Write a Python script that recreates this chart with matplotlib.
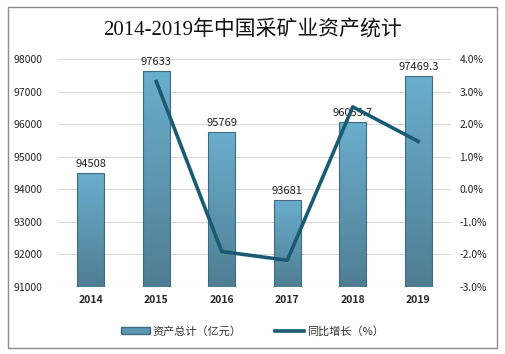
import matplotlib.pyplot as plt
import numpy as np
from matplotlib.patches import Rectangle
from matplotlib.lines import Line2D
from matplotlib.colors import LinearSegmentedColormap

plt.rcParams['font.family'] = ['Noto Sans CJK SC', 'DejaVu Sans']

years = ['2014', '2015', '2016', '2017', '2018', '2019']
assets = [94508, 97633, 95769, 93681, 96055.7, 97469.3]
asset_labels = ['94508', '97633', '95769', '93681', '96055.7', '97469.3']
growth_years = ['2015', '2016', '2017', '2018', '2019']
growth = [3.31, -1.91, -2.18, 2.53, 1.47]

fig = plt.figure(figsize=(5.05, 3.54), dpi=100)
ax = fig.add_axes([58/505, 1-287/354, (451-58)/505, (287-59)/354])
ax2 = ax.twinx()

x = np.arange(len(years))

# gradient bars
grad = np.linspace(0, 1, 100).reshape(-1, 1)
cmap = LinearSegmentedColormap.from_list('b', ['#4f7e93', '#6aaecd'])
bars = ax.bar(x, assets, width=0.41, bottom=0, color='none',
              edgecolor='#3f6b80', linewidth=0.8, zorder=3)
for b in bars:
    x0, w = b.get_x(), b.get_width()
    im = ax.imshow(grad, extent=[x0, x0 + w, 91000, b.get_height()],
                   origin='lower', cmap=cmap, aspect='auto', zorder=2)
    im.set_clip_path(b)
ax.set_aspect('auto')
ax.set_xlim(-0.5, len(years) - 0.5)
ax.set_ylim(91000, 98000)
ax2.set_ylim(-3.0, 4.0)

for xi, v, lab in zip(x, assets, asset_labels):
    ax.text(xi, v + 120, lab, ha='center', va='bottom', fontsize=8,
            color='#222222', zorder=5)

gx = [years.index(y) for y in growth_years]
ax2.plot(gx, growth, color='#1a5a73', linewidth=2.6, zorder=4)

ax.set_yticks(np.arange(91000, 98001, 1000))
ax.set_xticks(x)
ax.set_xticklabels(years, fontweight='bold')
ax2.set_yticks(np.arange(-3, 4.01, 1))
ax2.set_yticklabels(['%.1f%%' % v for v in np.arange(-3, 4.01, 1)])
ax.grid(axis='y', color='#d9d9d9', linewidth=0.8, zorder=0)
ax.set_axisbelow(True)

for a in (ax, ax2):
    for s in a.spines.values():
        s.set_visible(False)
    a.tick_params(length=0, labelsize=7.5, colors='#262626')
ax.tick_params(axis='y', pad=11)
ax.tick_params(axis='x', pad=6)
ax2.tick_params(axis='y', pad=6)

fig.text(0.5, 1 - 30/354, '2014-2019年中国采矿业资产统计', ha='center',
         va='center', fontsize=15, color='#111111',
         family=['Liberation Serif', 'Noto Sans CJK SC'])

handles = [Rectangle((0, 0), 1, 1, facecolor='#5c97b2', edgecolor='#3f6b80'),
           Line2D([0], [0], color='#1a5a73', linewidth=2.6)]
fig.legend(handles, ['资产总计（亿元）', '同比增长（%）'], loc='center',
           bbox_to_anchor=(0.5, 1 - 331/354), ncol=2, frameon=False,
           fontsize=8, handlelength=2.6, handleheight=0.6,
           columnspacing=3, handletextpad=0.3, labelcolor='#333333')

fig.patches.append(Rectangle((8/505, 1 - 348/354), 489/505, 341/354,
                             transform=fig.transFigure, fill=False,
                             edgecolor='#8c8c8c', linewidth=1))

fig.savefig('out.png', dpi=100)
